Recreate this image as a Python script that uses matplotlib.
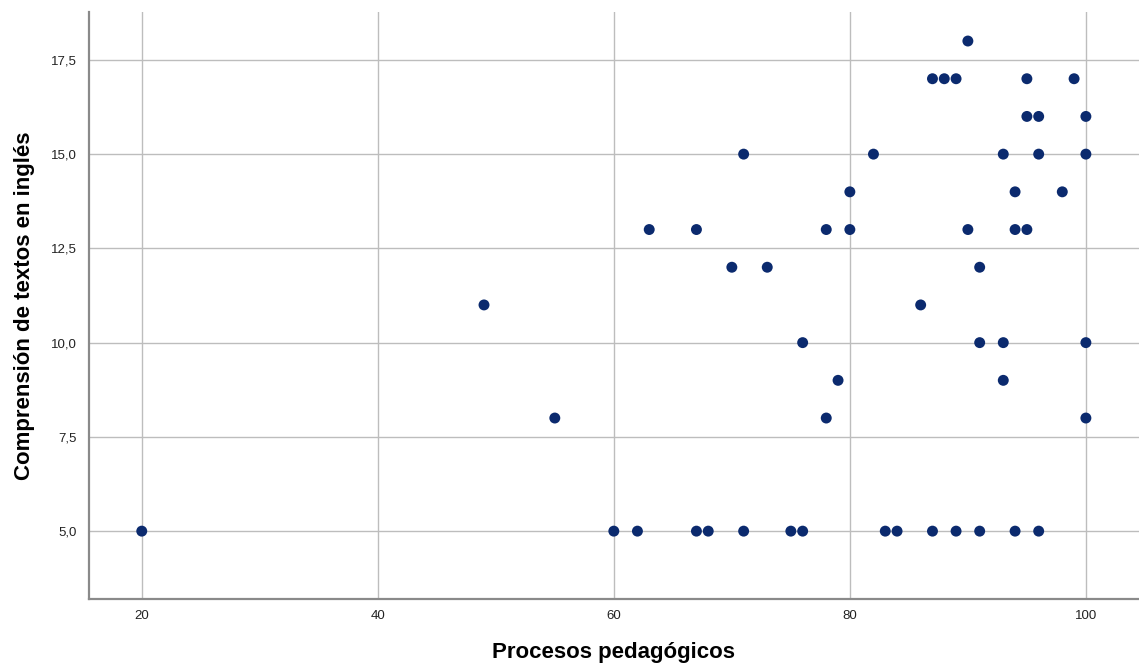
import matplotlib
matplotlib.use("Agg")
import matplotlib.pyplot as plt
from matplotlib.ticker import FuncFormatter

# Procesos pedagógicos (x) vs Comprensión de textos en inglés (y)
procesos = [20, 49, 55,
            60, 62, 67, 68, 71, 75, 76, 83, 84, 87, 89, 91, 94, 96,
            76, 79, 78, 86, 91, 93, 100, 93, 100,
            71, 82, 80, 63, 67, 78, 80, 70, 73,
            90, 87, 88, 89, 95, 99,
            95, 96, 100,
            93, 96, 100,
            94, 98,
            90, 94, 95,
            91]
comprension = [5, 11, 8,
               5, 5, 5, 5, 5, 5, 5, 5, 5, 5, 5, 5, 5, 5,
               10, 9, 8, 11, 10, 10, 10, 9, 8,
               15, 15, 14, 13, 13, 13, 13, 12, 12,
               18, 17, 17, 17, 17, 17,
               16, 16, 16,
               15, 15, 15,
               14, 14,
               13, 13, 13,
               12]

x_ticks = [20, 40, 60, 80, 100]
y_ticks = [5.0, 7.5, 10.0, 12.5, 15.0, 17.5]

plt.rcParams['font.family'] = ['Liberation Sans', 'DejaVu Sans']

fig = plt.figure(figsize=(11.39, 6.69), dpi=100)
ax = fig.add_axes([89 / 1139, 70 / 669, 1 - 89 / 1139, (599 - 12) / 669])

ax.scatter(procesos, comprension, s=62, color='#0b2a6e', edgecolors='none', zorder=3)

ax.set_xlim(15.53, 104.5)
ax.set_ylim(3.2, 18.77)
ax.set_xticks(x_ticks)
ax.set_yticks(y_ticks)
ax.yaxis.set_major_formatter(FuncFormatter(lambda v, p: f"{v:.1f}".replace('.', ',')))
ax.tick_params(length=0, labelsize=9.5, colors='#222222')
ax.tick_params(axis='x', pad=8)
ax.tick_params(axis='y', pad=9)

ax.grid(True, color='#bdbdbd', linewidth=1.0)
ax.set_axisbelow(True)
for s in ['top', 'right']:
    ax.spines[s].set_visible(False)
for s in ['left', 'bottom']:
    ax.spines[s].set_color('#8a8a8a')
    ax.spines[s].set_linewidth(1.6)

ax.set_xlabel('Procesos pedagógicos', fontsize=16, fontweight='bold', labelpad=14)
ax.set_ylabel('Comprensión de textos en inglés', fontsize=16, fontweight='bold', labelpad=11)

fig.savefig('out.png', dpi=100)
